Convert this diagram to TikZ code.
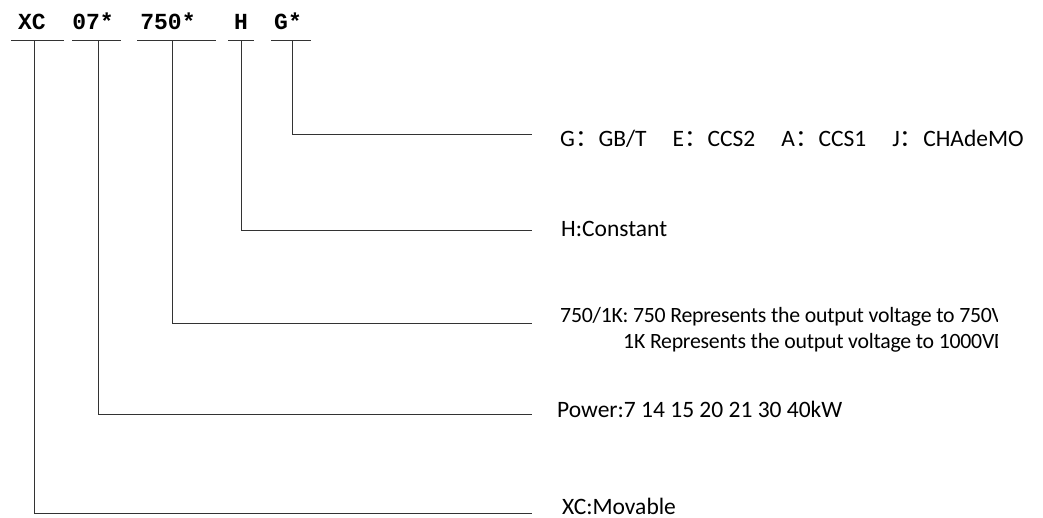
\documentclass[tikz,border=0pt]{standalone}
\usepackage{fontspec}
\setmainfont{Carlito}
\newfontfamily\codefont{Liberation Mono}
\newfontfamily\cjk{Noto Sans CJK SC}
\begin{document}
\begin{tikzpicture}[x=1pt,y=-1pt,
  code/.style={font=\codefont\bfseries\fontsize{23}{23}\selectfont, inner sep=0pt, anchor=base},
  desc/.style={font=\fontsize{23.5}{23.5}\selectfont, inner sep=0pt, anchor=base west},
  tight/.style={font=\fontsize{21.8}{21.8}\selectfont\addfontfeature{LetterSpace=-1.2}},
  ln/.style={line width=1pt, draw=black!80}]
\useasboundingbox (0,0) rectangle (1043,518);
% code labels
\node[code] (xc)  at (32,30)  {XC};
\node[code] (pw)  at (93,30)  {07*};
\node[code] (vo)  at (168,30) {750*};
\node[code] (hh)  at (241,30) {H};
\node[code] (gg)  at (288,30) {G*};
% underlines
\draw[ln] (11,40.5) -- (64,40.5);
\draw[ln] (72,40.5) -- (121,40.5);
\draw[ln] (137,40.5) -- (216,40.5);
\draw[ln] (228,40.5) -- (254,40.5);
\draw[ln] (271,40.5) -- (311,40.5);
% descriptions
\node[desc] (dg) at (560,147) {G{\cjk ：}GB/T\hspace{26pt}E{\cjk ：}CCS2\hspace{26pt}A{\cjk ：}CCS1\hspace{26pt}J{\cjk ：}CHAdeMO};
\node[desc] (dh) at (561,237) {H:Constant};
\begin{scope}
\clip (540,290) rectangle (997,360);
\node[desc,tight] (dv1) at (560,322.5) {750/1K: 750 Represents the output voltage to 750VDC};
\node[desc,tight] (dv2) at (623,348) {1K Represents the output voltage to 1000VDC};
\end{scope}
\node[desc] (dp) at (557,417) {Power:7 14 15 20 21 30 40kW};
\node[desc, text depth=0pt] (dx) at (562,514) {XC:Movable};
% connector coordinates
\coordinate (cg0) at (292,40.5);  \coordinate (cg) at (532,135);
\coordinate (ch0) at (241,40.5);  \coordinate (ch) at (532,231);
\coordinate (cv0) at (172,40.5);  \coordinate (cv) at (532,323);
\coordinate (cp0) at (98,40.5);   \coordinate (cp) at (532,414);
\coordinate (cx0) at (34,40.5);   \coordinate (cx) at (532,513);
\draw[ln] (cg0) |- (cg);
\draw[ln] (ch0) |- (ch);
\draw[ln] (cv0) |- (cv);
\draw[ln] (cp0) |- (cp);
\draw[ln] (cx0) |- (cx);
\end{tikzpicture}
\end{document}
